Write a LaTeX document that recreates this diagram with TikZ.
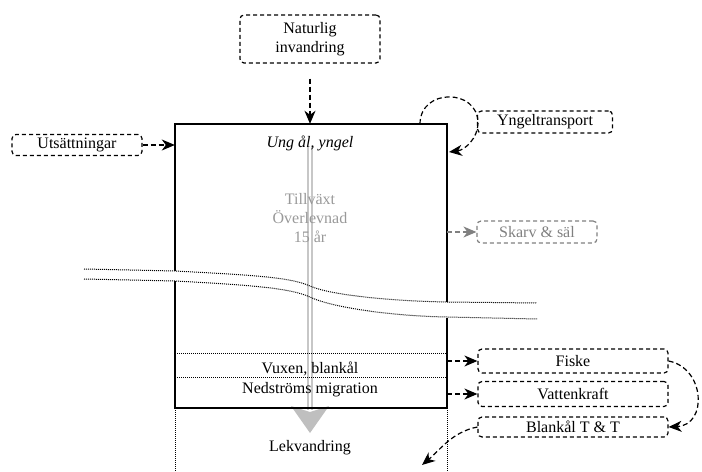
\documentclass[tikz,border=0pt]{standalone}
\usepackage{fontspec}
\setmainfont{Liberation Serif}
\usetikzlibrary{arrows.meta}

\begin{document}
\begin{tikzpicture}[x=1bp,y=-1bp,>/.tip={Stealth[length=13bp,width=11bp,inset=4bp]},
	every node/.style={font=\fontsize{16bp}{19bp}\selectfont,inner sep=0pt},
	pbox/.style={draw,dash pattern=on 4bp off 3bp,rounded corners=4bp,line width=1.2bp,align=center},
	flow/.style={->,dash pattern=on 5bp off 3bp,line width=1.2bp},
	river/.style={dash pattern=on 1bp off 1bp,line width=1bp},
	wall/.style={line width=2.2bp}]
	\useasboundingbox (0,0) rectangle (702,472);
	% stock box (edges drawn below, broken by the river)
	\node (stock) [minimum width=272bp,minimum height=284bp] at (311,266) {};
	% grey arrow through the box
	\node (ung) at (310,143) {};
	\coordinate (tip) at (310,433);
	\draw[draw=black!22,double=white,double distance=1.8bp,line width=2bp] (310,147) -- (310,410);
	\fill[black!25] (291,406) -- (tip) -- (329,406) -- (310,412) -- cycle;
	% texts in the box
	\node at (ung) {\textit{Ung ål, yngel}};
	\node (grow) [text=black!40,align=center] at (310,218) {Tillväxt\\Överlevnad\\15 år};
	\node (adult) at (310,369) {Vuxen, blankål};
	\node (down) at (310,390) {Nedströms migration};
	\node (lek) at (310,448) {Lekvandring};
	% walls
	\draw[wall] (175,271) |- (447,124) -- (447,302);
	\draw[wall] (447,318) |- (175,408) -- (175,281);
	\draw[river] (175,353) -- (447,353);
	\draw[river] (175,377) -- (447,377);
	\draw[river] (175,408) -- (175,472);
	\draw[river] (447,408) -- (447,472);
	% river
	\draw[river] (84,269) -- (175,271) .. controls (250,275) and (290,277) .. (310,286) .. controls (330,295) and (390,301) .. (447,302) -- (537,303);
	\draw[river] (84,279) -- (175,281) .. controls (250,285) and (290,288) .. (310,297) .. controls (330,307) and (390,316) .. (447,317) -- (537,319);
	% boxes outside
	\node (nat) [pbox,minimum width=140bp,minimum height=48bp] at (310,39) {Naturlig\\invandring};
	\node (uts) [pbox,minimum width=130bp,minimum height=21bp] at (77,145) {Utsättningar};
	\node (yng) [pbox,minimum width=135bp,minimum height=22bp] at (545,122) {Yngeltransport};
	\node (skarv) [pbox,draw=black!50,text=black!50,minimum width=120bp,minimum height=22bp] at (537,232) {Skarv \& säl};
	\node (fiske) [pbox,minimum width=190bp,minimum height=24bp] at (573,361) {Fiske};
	\node (vatten) [pbox,minimum width=190bp,minimum height=25bp] at (573,394) {Vattenkraft};
	\node (blank) [pbox,minimum width=190bp,minimum height=20bp] at (573,427) {Blankål T \& T};
	\coordinate (spawn) at (422,465);
	% flows
	\draw[flow,shorten <=15bp] (nat.south) -- (nat.south |- stock.north);
	\draw[flow] (uts.east) -- (uts -| stock.west);
	\draw[flow] (420,124) .. controls (420,88) and (478,88) .. (478,123) .. controls (478,138) and (465,150) .. (449,152);
	\draw[flow,draw=black!50,-{Stealth[length=13bp,width=11bp,inset=4bp,black!50]}] (skarv -| stock.east) -- (skarv.west);
	\draw[flow] (fiske -| stock.east) -- (fiske.west);
	\draw[flow] (vatten -| stock.east) -- (vatten.west);
	\draw[flow] (fiske.east) .. controls (705,368) and (708,425) .. (blank.east);
	\draw[flow] (blank.west) .. controls (452,432) and (440,450) .. (spawn);
\end{tikzpicture}
\end{document}
